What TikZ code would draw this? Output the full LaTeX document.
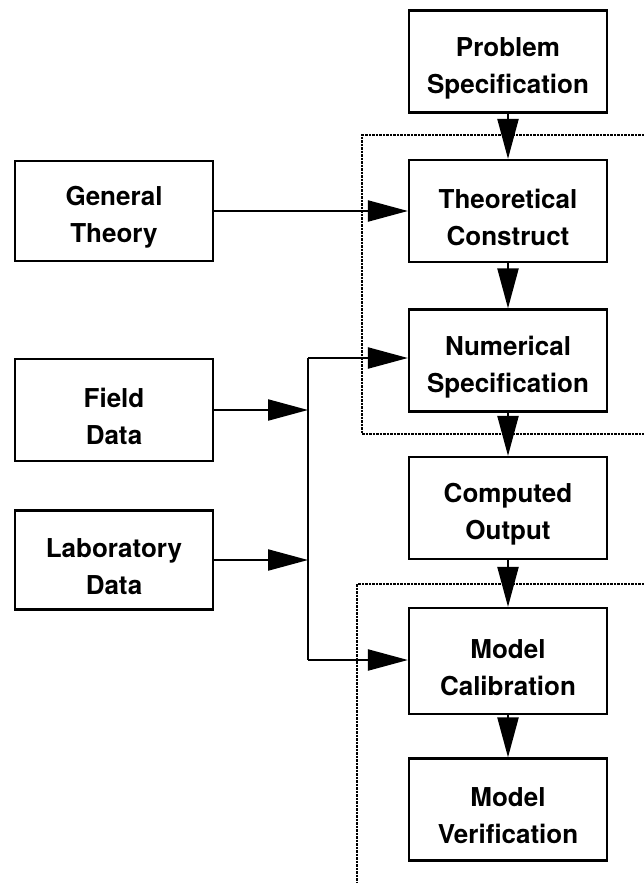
\documentclass[tikz,border=0pt]{standalone}
\usepackage{fontspec}
\setmainfont{TeX Gyre Heros}
\usetikzlibrary{arrows.meta}
\newcommand{\tstr}{\rule{0pt}{32pt}}
\begin{document}
\begin{tikzpicture}[x=1pt,y=-1pt,
 box/.style={draw,line width=2.2pt,minimum width=198pt,minimum height=102pt,align=center,
   font=\fontsize{26}{37}\selectfont\bfseries,inner sep=0pt},
 conn/.style={line width=2.2pt,-{Triangle[length=40pt,width=21pt]}},
 plain/.style={line width=2.2pt},
 dotline/.style={line width=2.6pt,dash pattern=on 2.5pt off 1pt}]
\useasboundingbox (0,0) rectangle (644,883);
% dotted enclosures
\draw[dotline] (644,135) -- (362,135) -- (362,434) -- (644,434);
\draw[dotline] (644,584) -- (357,584) -- (357,883);
% right column
\node[box] (prob) at (508,61.5) {\tstr Problem\\Specification};
\node[box] (theo) at (508,211) {\tstr Theoretical\\Construct};
\node[box] (num)  at (508,360.5) {\tstr Numerical\\Specification};
\node[box] (comp) at (508,508) {\tstr Computed\\Output};
\node[box,minimum height=106pt] (cal) at (508,661) {\tstr Model\\Calibration};
\node[box] (ver)  at (508,809.5) {\tstr Model\\Verification};
% left column
\node[box,minimum height=100pt] (gen) at (114,211) {\tstr General\\Theory};
\node[box] (field) at (114,410) {\tstr Field\\Data};
\node[box,minimum height=99pt] (lab) at (114,560) {\tstr Laboratory\\Data};
% junction
\coordinate (j1) at (308,358);
\coordinate (j2) at (308,660);
\coordinate (jf) at (308,410);
\coordinate (jl) at (308,560);
% connectors
\draw[conn] (prob) -- (theo);
\draw[conn] (theo) -- (num);
\draw[conn] (num) -- (comp);
\draw[conn] (comp) -- (cal);
\draw[conn] (cal) -- (ver);
\draw[conn] (gen) -- (theo);
\draw[conn] (field) -- (jf);
\draw[conn] (lab) -- (jl);
\draw[plain] (j1) -- (j2);
\draw[conn] (j1) -- (num.west |- j1);
\draw[conn] (j2) -- (cal.west |- j2);
\end{tikzpicture}
\end{document}
